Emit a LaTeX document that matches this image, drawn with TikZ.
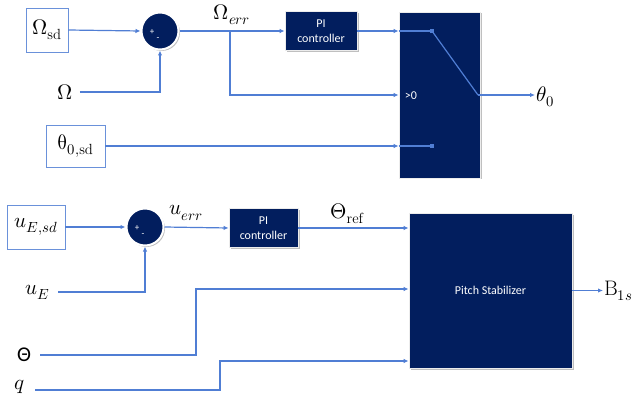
\documentclass[tikz,border=0pt]{standalone}
\usepackage{fontspec}
\usepackage{unicode-math}
\newfontfamily\carl{Carlito}
\usetikzlibrary{arrows.meta,shadows}
\definecolor{navy}{RGB}{2,30,94}
\definecolor{lb}{RGB}{80,126,212}
\tikzset{
  arr/.style={lb, line width=1.2pt, -{Latex[length=5pt,width=4.5pt]}},
  ln/.style={lb, line width=1.2pt},
  inbox/.style={draw=lb!85, line width=0.9pt, fill=white, inner sep=0pt, font=\fontsize{21}{24}\selectfont},
  shad/.style={drop shadow={shadow xshift=1.5pt, shadow yshift=-1.5pt, fill=black, opacity=0.25}},
  blk/.style={fill=navy, draw=white!85!gray, line width=0.8pt, shad, text=white,
    font=\carl\fontsize{12}{15}\selectfont, align=center, inner sep=0pt},
  sumc/.style={circle, fill=navy, draw=white, line width=2pt, minimum size=37pt, inner sep=0pt, shad},
  sgn/.style={text=white, font=\carl\fontsize{9}{9}\selectfont, inner sep=0pt},
  lbl/.style={inner sep=1pt, font=\fontsize{21}{24}\selectfont},
  sq/.style={fill=lb, minimum size=4pt, inner sep=0pt},
}
\begin{document}
\begin{tikzpicture}[x=1pt,y=-1pt]
\useasboundingbox[fill=white] (0,0) rectangle (633,396);
% ---------- top loop ----------
\node[inbox, minimum width=42pt, minimum height=44pt] (osd) at (47,30) {$\Omega_{\mathrm{sd}}$};
\node[sumc] (sum1) at (160,31) {};
\node[sgn] at ([shift={(-8,1)}]sum1.center) {+};
\node[sgn] at ([shift={(-2,8)}]sum1.center) {-};
\node[lbl] (om) at (65,92) {$\Omega$};
\node[lbl] (oerr) at (232,15) {$\Omega_{err}$};
\node[blk, minimum width=72pt, minimum height=39pt] (pi1) at (321,31) {PI\\controller};
\node[blk, minimum width=81pt, minimum height=166pt] (sw) at (439.5,95) {};
\node[text=white, font=\carl\fontsize{12}{14}\selectfont, inner sep=0pt] (gt) at (411,96) {>0};
\node[sq] (sq1) at (432,31) {};
\node[sq] (sq2) at (432,146) {};
\coordinate (swout) at (478,95);
\node[lbl, anchor=west] (th0) at (535,97) {$\theta_0$};
\node[inbox, minimum width=59pt, minimum height=42pt] (t0sd) at (75.5,146) {$\symup{\theta}_{0,\mathrm{sd}}$};
\coordinate (br) at (230,31);

\draw[arr] (osd.east) -- (sum1.west);
\draw[arr] ([xshift=6pt]om.east) -| (sum1.south);
\draw[arr] (sum1.east) -- (pi1.west);
\draw[arr] (br) |- (sw.west);
\draw[arr] (pi1.east) -- (sw.west |- sq1);
\draw[ln] (sw.west |- sq1) -- (sq1.center);
\draw[arr] (t0sd.east) -- (sw.west |- sq2);
\draw[ln] (sw.west |- sq2) -- (sq2.center);
\draw[ln] (sq1.center) -- (swout);
\draw[arr] (swout) -- (th0.west |- swout);

% ---------- bottom loop ----------
\node[inbox, minimum width=58pt, minimum height=44pt] (uesd) at (36,227) {$u_{E,sd}$};
\node[sumc] (sum2) at (145,227) {};
\node[sgn] at ([shift={(-8,1)}]sum2.center) {+};
\node[sgn] at ([shift={(-2,8)}]sum2.center) {-};
\node[lbl] (ue) at (38,292) {$u_E$};
\node[lbl] (uerr) at (186,213) {$u_{err}$};
\node[blk, minimum width=69pt, minimum height=39pt] (pi2) at (263.5,228) {PI\\controller};
\node[lbl] (thref) at (347,214) {$\Theta_{\mathrm{ref}}$};
\node[blk, minimum width=163pt, minimum height=155pt] (ps) at (490.5,290.5) {Pitch Stabilizer};
\node[inner sep=1pt, font=\carl\fontsize{21}{24}\selectfont] (Th) at (24,355) {Θ};
\node[lbl] (q) at (20,387) {$q$};
\node[lbl, anchor=west] (b1s) at (603,291) {$\mathrm{B}_{1s}$};
\coordinate (thturn) at (196,289);
\coordinate (qturn) at (220,361);
\coordinate (qs) at (35,390);

\draw[arr] (uesd.east) -- (sum2.west);
\draw[arr] ([xshift=20pt]ue.center) -| (sum2.south);
\draw[arr] (sum2.east) -- (pi2.west);
\draw[arr] (pi2.east) -- (ps.west |- pi2);
\draw[arr] ([xshift=8pt]Th.east) -| (thturn) -- (ps.west |- thturn);
\draw[arr] (qs) -| (qturn) -- (ps.west |- qturn);
\draw[arr] (ps.east) -- (b1s.west |- ps.east);
\end{tikzpicture}
\end{document}
